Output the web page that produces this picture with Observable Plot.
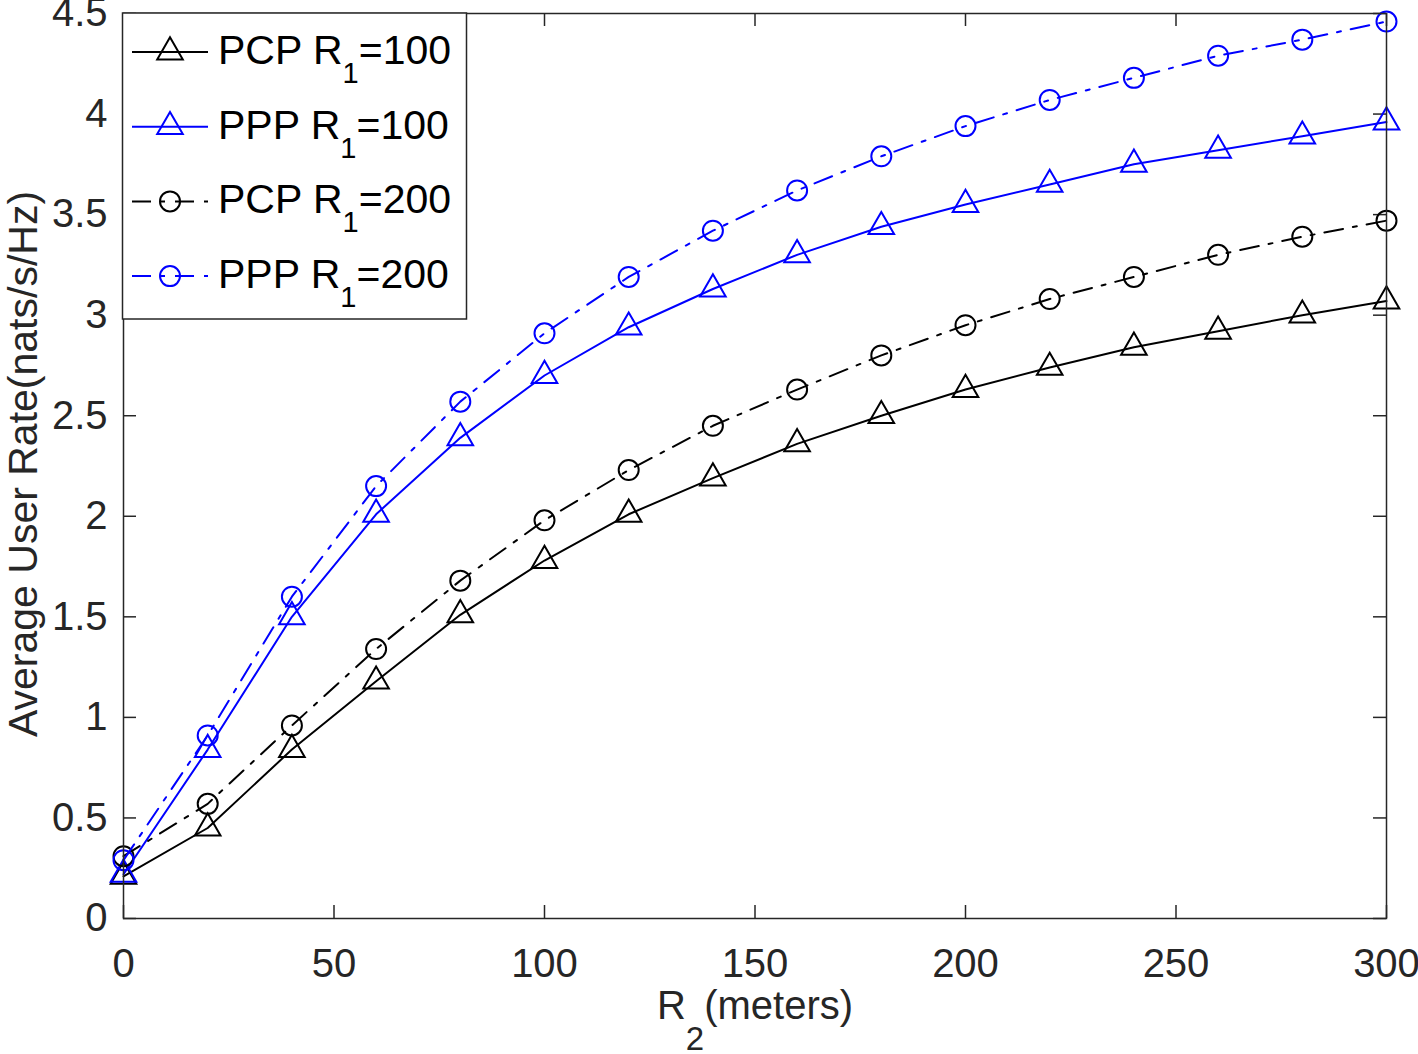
<!DOCTYPE html>
<html><head><meta charset="utf-8">
<script src="https://cdn.jsdelivr.net/npm/d3@7"></script>
<script src="https://cdn.jsdelivr.net/npm/@observablehq/plot@0.6"></script>
<style>
html,body{margin:0;padding:0;background:#fff;}
#chart{width:1418px;height:1054px;}
svg{font-family:"Liberation Sans", Arial, Helvetica, sans-serif;}
</style></head><body><div id="chart"></div>
<script>
// ---- data ----
const r2 = [0, 20, 40, 60, 80, 100, 120, 140, 160, 180, 200, 220, 240, 260, 280, 300];
const pcpR100 = [0.21, 0.45, 0.84, 1.18, 1.51, 1.78, 2.01, 2.19, 2.36, 2.50, 2.63, 2.74, 2.84, 2.92, 3.00, 3.07];
const pppR100 = [0.22, 0.84, 1.50, 2.01, 2.39, 2.70, 2.94, 3.13, 3.30, 3.44, 3.55, 3.65, 3.75, 3.82, 3.89, 3.96];
const pcpR200 = [0.31, 0.57, 0.96, 1.34, 1.68, 1.98, 2.23, 2.45, 2.63, 2.80, 2.95, 3.08, 3.19, 3.30, 3.39, 3.47];
const pppR200 = [0.29, 0.91, 1.60, 2.15, 2.57, 2.91, 3.19, 3.42, 3.62, 3.79, 3.94, 4.07, 4.18, 4.29, 4.37, 4.46];
const xTicks = [0, 50, 100, 150, 200, 250, 300];
const yTicks = [0, 0.5, 1, 1.5, 2, 2.5, 3, 3.5, 4, 4.5];
const seriesKeys = ["pcp100", "ppp100", "pcp200", "ppp200"];
const legendMain = ["PCP R", "PPP R", "PCP R", "PPP R"];
const legendSub = ["1", "1", "1", "1"];
const legendTail = ["=100", "=100", "=200", "=200"];
const xLabelMain = "R", xLabelSub = "2", xLabelTail = "(meters)";
const yLabel = "Average User Rate(nats/s/Hz)";

// ---- table ----
const valuesByKey = {pcp100: pcpR100, ppp100: pppR100, pcp200: pcpR200, ppp200: pppR200};
const rows = [];
seriesKeys.forEach(k => valuesByKey[k].forEach((v, j) => rows.push({series: k, x: r2[j], y: v})));

// ---- styles ----
const style = {
  pcp100: {color: "#000000", dash: null, symbol: "triangle", r: 9.5},
  ppp100: {color: "#0000ff", dash: null, symbol: "triangle", r: 9.5},
  pcp200: {color: "#000000", dash: "19,10,4,10", symbol: "circle", r: 10},
  ppp200: {color: "#0000ff", dash: "19,10,4,10", symbol: "circle", r: 10}
};
const W = 1418, H = 1054, mL = 123, mR = 32, mT = 13, mB = 136;
const xDomain = [0, 300], yDomain = [0, 4.5];
const tickLen = 13;
const xTL = tickLen * (xDomain[1] - xDomain[0]) / (W - mL - mR);
const yTL = tickLen * (yDomain[1] - yDomain[0]) / (H - mT - mB);
const axisColor = "#262626";
const font = '"Liberation Sans", Arial, Helvetica, sans-serif';

const marks = [
  Plot.axisX(xTicks, {anchor: "bottom", tickSize: 0, tickPadding: 30, fontSize: 40, fill: axisColor, label: null, tickFormat: d => String(d)}),
  Plot.axisY(yTicks, {anchor: "left", tickSize: 0, tickPadding: 16, fontSize: 40, fill: axisColor, label: null, tickFormat: d => String(d)}),
  Plot.ruleX(xTicks, {x: d => d, y1: yDomain[0], y2: yDomain[0] + yTL, stroke: axisColor, strokeWidth: 1.5}),
  Plot.ruleX(xTicks, {x: d => d, y1: yDomain[1], y2: yDomain[1] - yTL, stroke: axisColor, strokeWidth: 1.5}),
  Plot.ruleY(yTicks, {y: d => d, x1: xDomain[0], x2: xDomain[0] + xTL, stroke: axisColor, strokeWidth: 1.5}),
  Plot.ruleY(yTicks, {y: d => d, x1: xDomain[1], x2: xDomain[1] - xTL, stroke: axisColor, strokeWidth: 1.5})
];
seriesKeys.forEach(k => {
  const s = style[k];
  const data = rows.filter(d => d.series === k);
  marks.push(Plot.line(data, {x: "x", y: "y", stroke: s.color, strokeWidth: 2, strokeDasharray: s.dash, strokeLinejoin: "miter"}));
  marks.push(Plot.dot(data, {x: "x", y: "y", symbol: s.symbol, r: s.r, stroke: s.color, strokeWidth: 2, fill: "none"}));
});
marks.push(Plot.frame({stroke: axisColor, strokeWidth: 1.5}));

const plot = Plot.plot({
  width: W, height: H,
  marginLeft: mL, marginRight: mR, marginTop: mT, marginBottom: mB,
  style: {fontFamily: font, background: "#fff"},
  x: {domain: xDomain},
  y: {domain: yDomain},
  marks
});
document.getElementById("chart").appendChild(plot);

// ---- labels & legend ----
const svg = d3.select(plot);
svg.append("text")
  .attr("transform", "translate(37,464) rotate(-90)")
  .attr("text-anchor", "middle").attr("font-size", 41).attr("fill", axisColor)
  .attr("font-family", font).text(yLabel);
const xl = svg.append("text").attr("x", 755).attr("y", 1019).attr("text-anchor", "middle")
  .attr("font-size", 40).attr("fill", axisColor).attr("font-family", font);
xl.append("tspan").text(xLabelMain);
xl.append("tspan").attr("font-size", 33).attr("dy", 31).text(xLabelSub);
xl.append("tspan").attr("dy", -31).text(xLabelTail);

const lg = svg.append("g");
lg.append("rect").attr("x", 122.5).attr("y", 13).attr("width", 344).attr("height", 306)
  .attr("fill", "#fff").attr("stroke", axisColor).attr("stroke-width", 1.5);
seriesKeys.forEach((k, i) => {
  const s = style[k];
  const cy = 52 + i * 74.7;
  lg.append("line").attr("x1", 132).attr("x2", 208).attr("y1", cy).attr("y2", cy)
    .attr("stroke", s.color).attr("stroke-width", 2).attr("stroke-dasharray", s.dash);
  const sym = s.symbol === "triangle" ? d3.symbolTriangle : d3.symbolCircle;
  lg.append("path").attr("d", d3.symbol(sym, Math.PI * s.r * s.r)())
    .attr("transform", `translate(170,${cy})`).attr("fill", "none")
    .attr("stroke", s.color).attr("stroke-width", 2);
  const t = lg.append("text").attr("x", 218).attr("y", cy + 12).attr("font-size", 41)
    .attr("text-anchor", "start").attr("fill", "#000").attr("font-family", font);
  t.append("tspan").text(legendMain[i]);
  t.append("tspan").attr("font-size", 29).attr("dy", 19).text(legendSub[i]);
  t.append("tspan").attr("dy", -19).text(legendTail[i]);
});
</script></body></html>
